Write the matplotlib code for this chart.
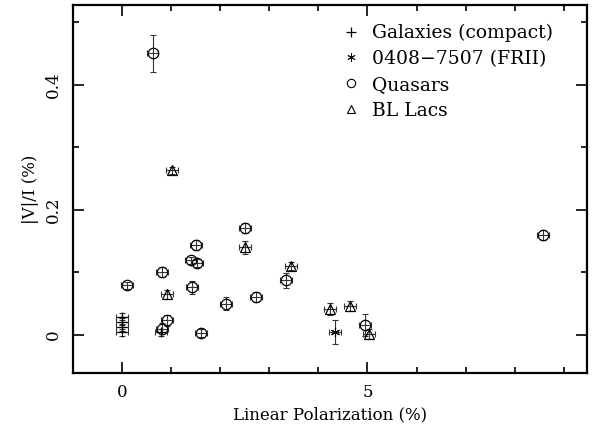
import numpy as np
import matplotlib
matplotlib.use('Agg')
import matplotlib.pyplot as plt
from matplotlib.lines import Line2D

plt.rcParams['font.family'] = 'DejaVu Serif'
plt.rcParams['mathtext.fontset'] = 'dejavuserif'

# Galaxies (compact)
gal_x = [0.0, 0.0, 0.0, 0.0, 0.8]
gal_y = [0.004, 0.012, 0.021, 0.029, 0.004]
gal_ye = [0.006, 0.006, 0.006, 0.006, 0.006]

# 0408-7507 (FRII)
fr_x = [4.34]
fr_y = [0.005]
fr_ye = [0.019]

# Quasars
q_x = [0.62, 2.51, 1.51, 1.41, 1.52, 0.81, 0.10, 1.42, 3.34, 2.73, 2.11, 0.91, 0.81, 1.61, 4.95, 8.58]
q_y = [0.450, 0.170, 0.143, 0.119, 0.115, 0.101, 0.079, 0.076, 0.087, 0.060, 0.050, 0.023, 0.010, 0.003, 0.016, 0.159]
q_ye = [0.030, 0.008, 0.008, 0.006, 0.006, 0.008, 0.005, 0.010, 0.012, 0.008, 0.010, 0.009, 0.009, 0.007, 0.018, 0.008]

# BL Lacs
bl_x = [1.02, 2.51, 0.91, 3.44, 4.24, 4.64, 5.03]
bl_y = [0.263, 0.140, 0.065, 0.110, 0.041, 0.046, 0.002]
bl_ye = [0.006, 0.010, 0.007, 0.006, 0.010, 0.008, 0.008]

xe = 0.12
star = (6, 2, 0)  # asterisk

fig = plt.figure(figsize=(5.97, 4.32), dpi=100)
ax = fig.add_axes([0.1223, 0.1366, 0.8607, 0.8515])

eb = dict(fmt='none', ecolor='#333333', elinewidth=0.8, capsize=2.5, capthick=0.8)
ax.errorbar(gal_x, gal_y, xerr=xe, yerr=gal_ye, **eb)
ax.errorbar(fr_x, fr_y, xerr=xe, yerr=fr_ye, **eb)
ax.errorbar(q_x, q_y, xerr=xe, yerr=q_ye, **eb)
ax.errorbar(bl_x, bl_y, xerr=xe, yerr=bl_ye, **eb)

ax.plot(gal_x, gal_y, 'k+', ms=7, mew=0.9, ls='none')
ax.plot(fr_x, fr_y, marker=star, color='k', ms=6.5, mew=0.8, ls='none')
ax.plot(q_x, q_y, 'o', ms=7.5, mfc='none', mec='k', mew=0.9, ls='none')
ax.plot(bl_x, bl_y, '^', ms=7.5, mfc='none', mec='k', mew=0.9, ls='none')

ax.set_xlim(-1, 9.47)
ax.set_ylim(-0.061, 0.527)
ax.set_xticks([0, 5])
ax.set_xticks(np.arange(0, 10, 1), minor=True)
ax.set_yticks([0, 0.2, 0.4])
ax.set_yticklabels(['0', '0.2', '0.4'], rotation=90, va='center')
ax.set_yticks(np.arange(0, 0.55, 0.1), minor=True)
ax.tick_params(which='both', direction='in', top=True, right=True, labelsize=12, width=1.2)
ax.tick_params(which='major', length=8, pad=8)
ax.tick_params(which='minor', length=4)
for s in ax.spines.values():
    s.set_linewidth(1.6)

ax.set_xlabel('Linear Polarization (%)', fontsize=12, labelpad=4)
ax.set_ylabel('|V|/I (%)', fontsize=12, labelpad=4)

handles = [
    Line2D([], [], marker='+', color='k', ls='none', ms=7, mew=0.9),
    Line2D([], [], marker=star, color='k', ls='none', ms=6, mew=0.6),
    Line2D([], [], marker='o', color='k', mfc='none', ls='none', ms=6, mew=0.8),
    Line2D([], [], marker='^', color='k', mfc='none', ls='none', ms=6, mew=0.8),
]
labels = ['Galaxies (compact)', '0408\u22127507 (FRII)', 'Quasars', 'BL Lacs']
ax.legend(handles, labels, loc='upper left', bbox_to_anchor=(0.49, 0.995), frameon=False,
          fontsize=13.5, handlelength=1.0, handletextpad=0.6, labelspacing=0.42)

fig.savefig('out.png', dpi=100)
